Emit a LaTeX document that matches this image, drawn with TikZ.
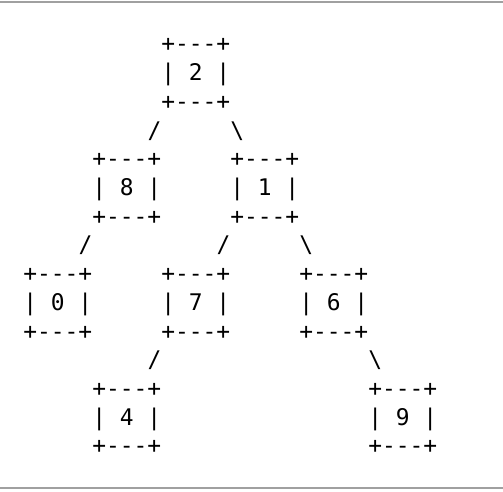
\documentclass[tikz,border=0pt]{standalone}
\usepackage{fontspec}
\newfontfamily\asciifont{DejaVu Sans Mono}
\definecolor{rulegray}{HTML}{A0A0A0}
\tikzset{
  ascii/.style={font=\asciifont\fontsize{22.9pt}{28.7pt}\selectfont, inner sep=0pt, anchor=base west, text=black},
  rulebar/.style={draw=rulegray, line width=1.6pt}
}
\begin{document}
\begin{tikzpicture}[x=1pt,y=1pt]
\useasboundingbox (0,0) rectangle (503,491);
\draw[rulebar] (0,488.7) -- (503,488.7);
\draw[rulebar] (0,3.3) -- (503,3.3);
% boxes: name / column / top row
\foreach \nm/\c/\r in {2/10/0, 8/5/4, 1/15/4, 0/0/8, 7/10/8, 6/20/8, 4/5/12, 9/25/12}{
  \node[ascii] (t\nm) at ({23.1+13.8*\c},{439-28.7*\r}) {+{-}{-}{-}+};
  \node[ascii] (m\nm) at ({23.1+13.8*\c},{439-28.7*(\r+1)}) {| \nm{} |};
  \node[ascii] (b\nm) at ({23.1+13.8*\c},{439-28.7*(\r+2)}) {+{-}{-}{-}+};
}
% forward slashes
\foreach \c/\r [count=\i] in {9/3, 4/7, 14/7, 9/11}{
  \node[ascii] (f\i) at ({23.1+13.8*\c},{439-28.7*\r}) {/};
}
% backslashes
\foreach \c/\r [count=\i] in {15/3, 20/7, 25/11}{
  \node[ascii] (k\i) at ({23.1+13.8*\c},{439-28.7*\r}) {\textbackslash};
}
\end{tikzpicture}
\end{document}
